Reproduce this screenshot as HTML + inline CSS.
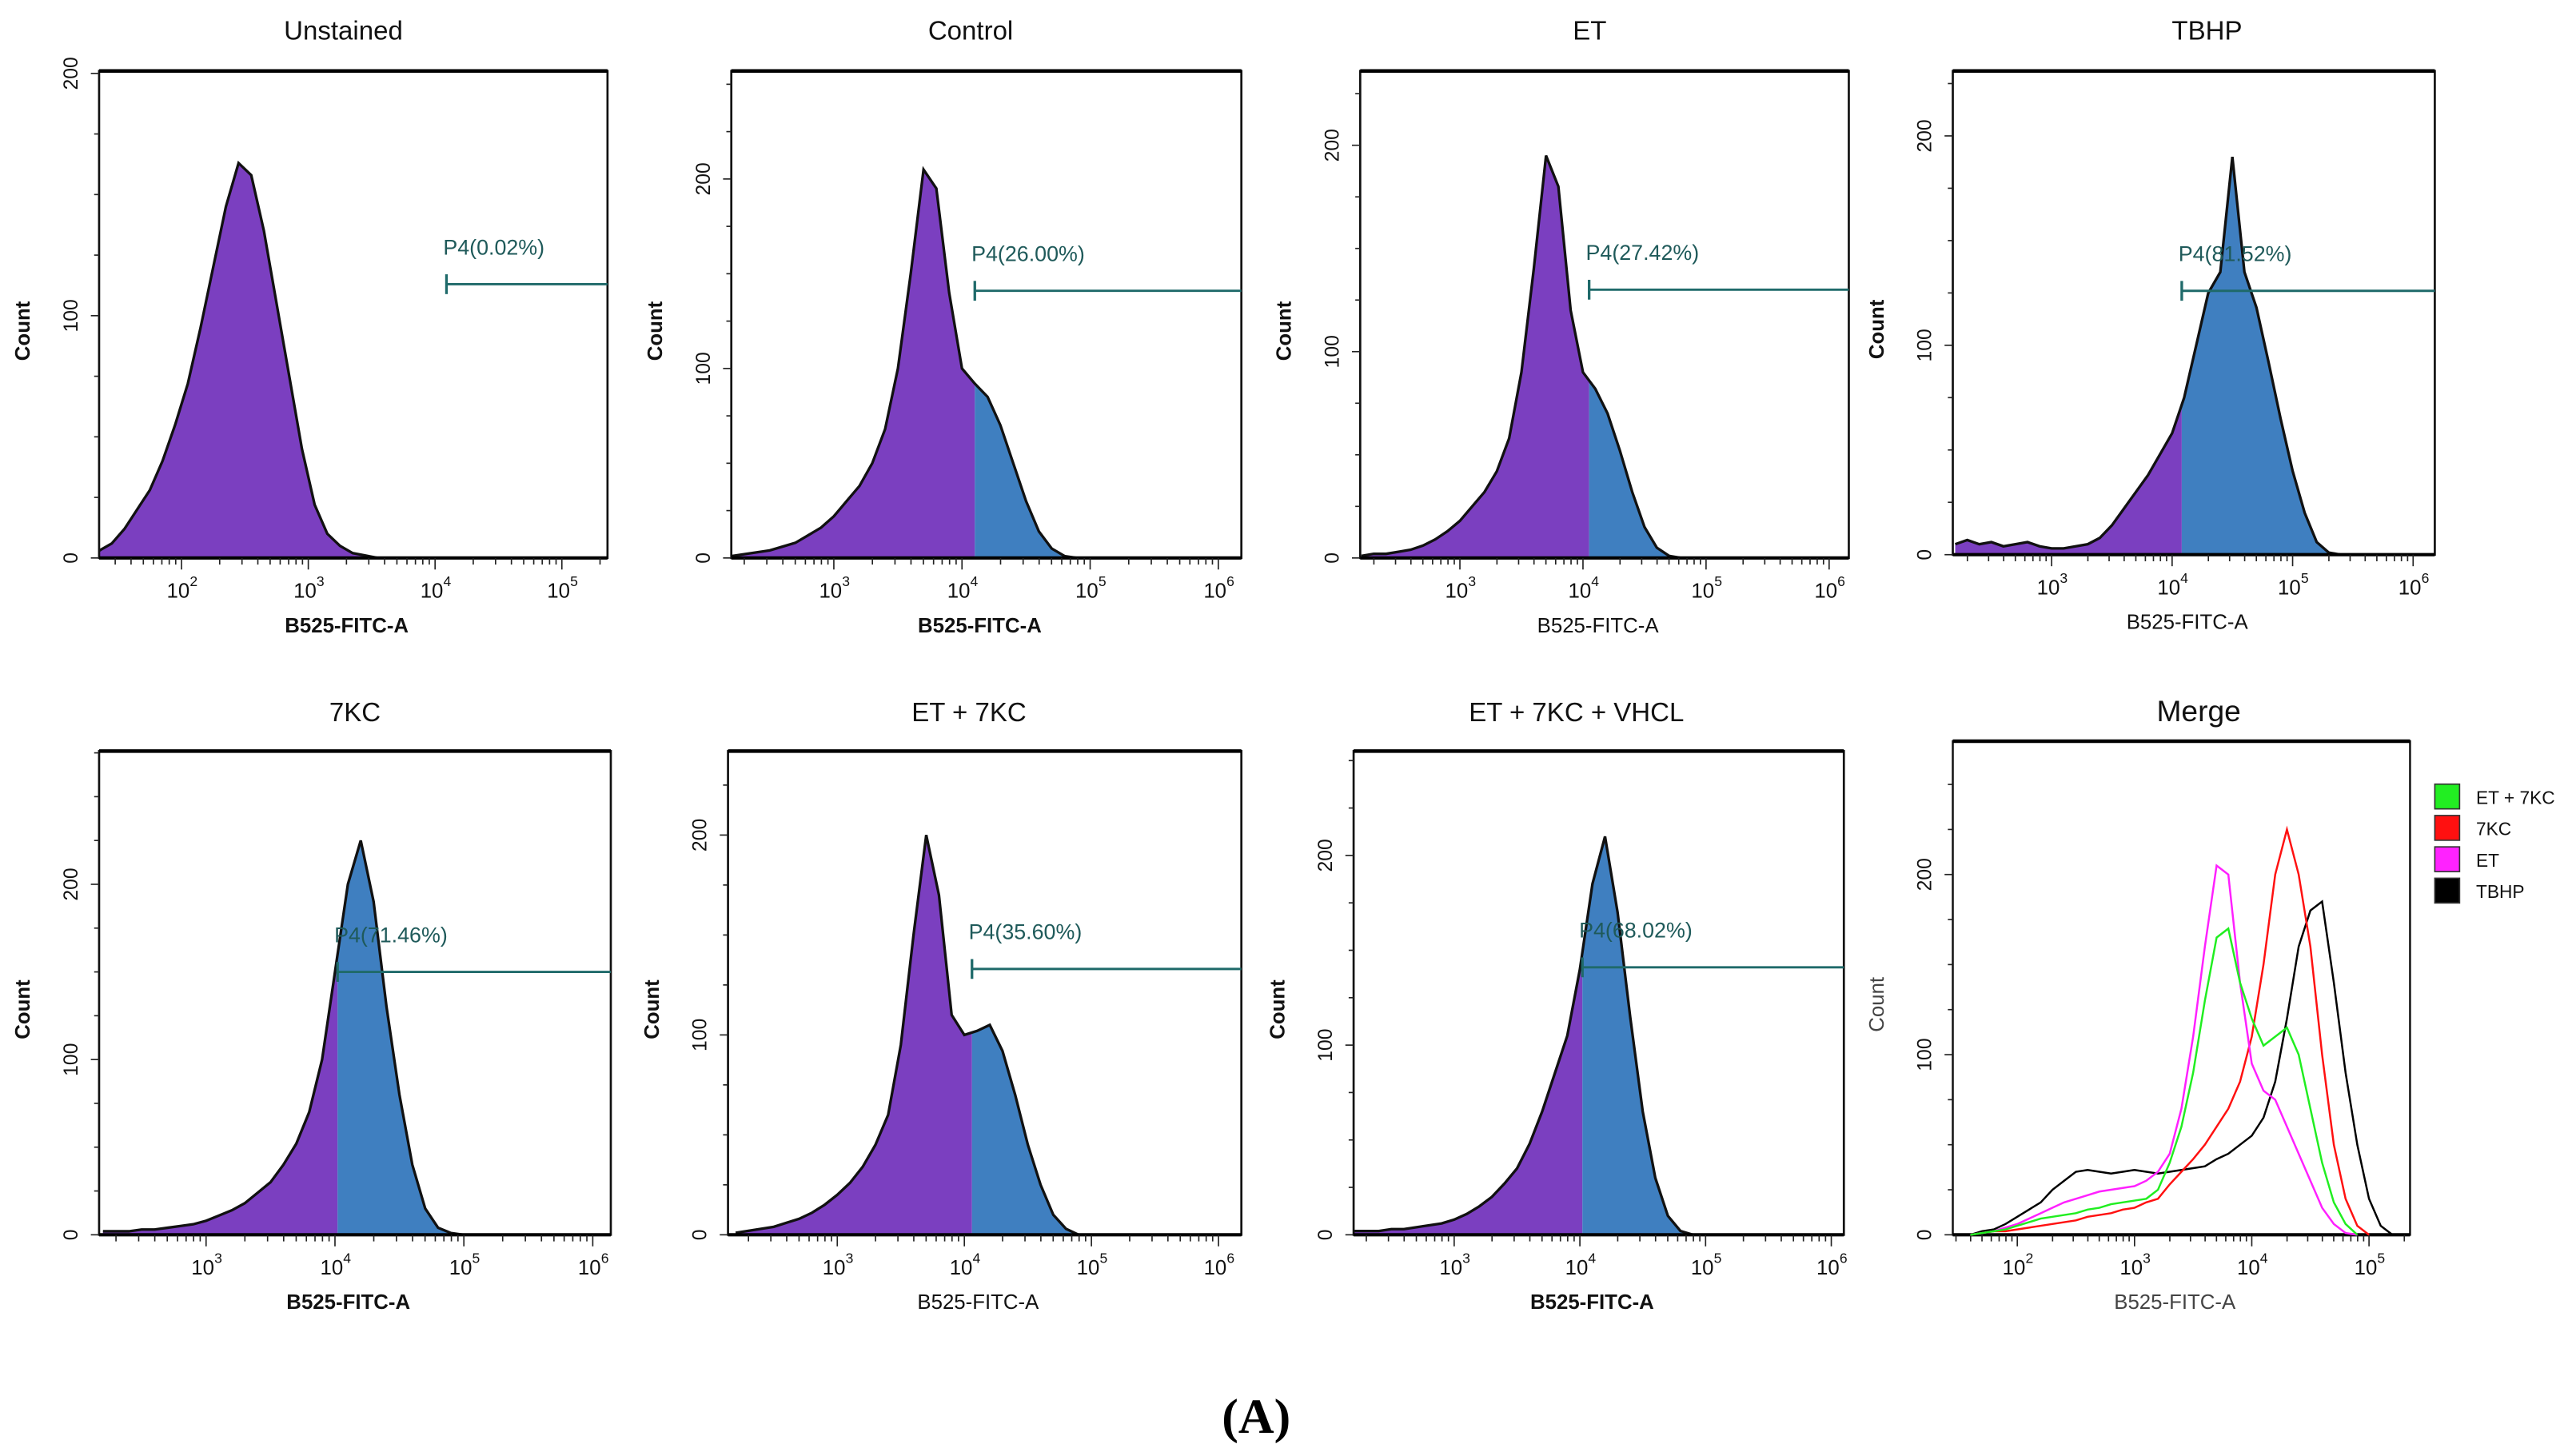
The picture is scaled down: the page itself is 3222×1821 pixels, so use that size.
<!DOCTYPE html>
<html><head><meta charset="utf-8"><style>
html,body{margin:0;padding:0;background:#fff;}
svg{display:block;font-family:"Liberation Sans",Arial,sans-serif;}
</style></head><body>
<svg id="fig" width="3222" height="1821" viewBox="0 0 1560.5 882" xmlns="http://www.w3.org/2000/svg">
<text x="761" y="868" font-family="Liberation Serif,serif" font-size="30" font-weight="bold" text-anchor="middle">(A)</text>
</svg>
<script>
// ---- data: counts sampled every 0.1 decade starting at given log10 value ----
const unstainedStart = 1.35;
const unstainedCounts = [3,6,12,20,28,40,55,72,95,120,145,163,158,135,105,75,45,22,10,5,2,1,0];
const controlStart = 2.2;
const controlCounts = [1,2,3,4,6,8,12,16,22,30,38,50,68,100,150,205,195,140,100,92,85,70,50,30,14,5,1,0];
const etStart = 2.2;
const etCounts = [1,2,2,3,4,6,9,13,18,25,32,42,58,90,140,195,180,120,90,82,70,52,32,15,5,1,0];
const tbhpStart = 2.2;
const tbhpCounts = [5,7,5,6,4,5,6,4,3,3,4,5,8,14,22,30,38,48,58,75,100,125,135,190,135,118,92,65,40,20,6,1,0];
const kc7Start = 2.2;
const kc7Counts = [2,2,2,3,3,4,5,6,8,11,14,18,24,30,40,52,70,100,150,200,225,190,130,80,40,15,4,1,0];
const etkcStart = 2.2;
const etkcCounts = [1,2,3,4,6,8,11,15,20,26,34,45,60,95,150,200,170,110,100,102,105,92,70,45,25,10,3,0];
const vhclStart = 2.2;
const vhclCounts = [2,2,2,3,3,4,5,6,8,11,15,20,27,35,48,65,85,105,140,185,210,170,115,65,30,10,2,0];
// merge overlay
const mergeStart = 1.6;
const mergeET = [0,1,2,4,6,9,12,15,18,20,22,24,25,26,27,30,35,45,70,110,160,205,200,140,95,80,75,60,45,30,15,6,1,0];
const mergeETKC = [0,1,2,3,5,7,9,10,11,12,14,15,17,18,19,20,25,40,60,90,130,165,170,140,120,105,110,115,100,70,40,18,6,0];
const mergeKC7 = [0,1,2,2,3,4,5,6,7,8,10,11,12,14,15,18,20,28,35,42,50,60,70,85,110,150,200,225,200,160,100,50,20,5,0];
const mergeTBHP = [0,2,3,6,10,14,18,25,30,35,36,35,34,35,36,35,34,35,36,37,38,42,45,50,55,65,85,120,160,180,185,140,90,50,20,5,0];
// tick labels
const yTickValues = [0,100,200];
const decadeLabels = [1,2,3,4,5,6];

const NS = "http://www.w3.org/2000/svg";
const svg = document.getElementById('fig');
function mk(tag, attrs, parent){const e=document.createElementNS(NS,tag);for(const k in attrs)e.setAttribute(k,attrs[k]);(parent||svg).appendChild(e);return e;}

const panels = [
 {name:'unstained',title:'Unstained',tx:208,ty:24,x0:60,x1:368,y0:43,y1:338,lx0:1.35,lx1:5.36,ymax:201,start:unstainedStart,counts:unstainedCounts,gate:4.09,gateY:113,label:'P4(0.02%)',xbold:true},
 {name:'control',title:'Control',tx:588,ty:24,x0:443,x1:752,y0:43,y1:338,lx0:2.2,lx1:6.18,ymax:257,start:controlStart,counts:controlCounts,gate:4.1,gateY:141,label:'P4(26.00%)',xbold:true},
 {name:'et',title:'ET',tx:963,ty:24,x0:824,x1:1120,y0:43,y1:338,lx0:2.19,lx1:6.16,ymax:236,start:etStart,counts:etCounts,gate:4.05,gateY:130,label:'P4(27.42%)',xbold:false},
 {name:'tbhp',title:'TBHP',tx:1337,ty:24,x0:1183,x1:1475,y0:43,y1:336,lx0:2.18,lx1:6.18,ymax:231,start:tbhpStart,counts:tbhpCounts,gate:4.08,gateY:126,label:'P4(81.52%)',xbold:false},
 {name:'7kc',title:'7KC',tx:215,ty:437,x0:60,x1:370,y0:455,y1:748,lx0:2.17,lx1:6.14,ymax:276,start:kc7Start,counts:kc7Counts,gate:4.02,gateY:150,label:'P4(71.46%)',xbold:true},
 {name:'et-7kc',title:'ET + 7KC',tx:587,ty:437,x0:441,x1:752,y0:455,y1:748,lx0:2.14,lx1:6.18,ymax:242,start:etkcStart,counts:etkcCounts,gate:4.06,gateY:133,label:'P4(35.60%)',xbold:false},
 {name:'et-7kc-vhcl',title:'ET + 7KC + VHCL',tx:955,ty:437,x0:820,x1:1117,y0:455,y1:748,lx0:2.2,lx1:6.1,ymax:255,start:vhclStart,counts:vhclCounts,gate:4.02,gateY:141,label:'P4(68.02%)',xbold:true}
];

function axesFor(p){
  const sx = l => p.x0 + (l - p.lx0)/(p.lx1 - p.lx0)*(p.x1 - p.x0);
  const sy = c => p.y1 - c/p.ymax*(p.y1 - p.y0);
  return {sx, sy};
}
function pts(p, start, counts, sx, sy){
  return counts.map((c,i)=>[sx(start+i*0.1), sy(c)]).filter(q=>q[0]>=p.x0-0.01 && q[0]<=p.x1+0.01);
}
function drawAxes(p, g, sx, sy, merge){
  const r = mk('rect',{x:p.x0,y:p.y0,width:p.x1-p.x0,height:p.y1-p.y0,fill:'none',stroke:'#111','stroke-width':merge?1.2:1.3},g);
  
  
  mk('line',{x1:p.x0,y1:p.y0,x2:p.x1,y2:p.y0,stroke:'#000','stroke-width':2.2},g);
  mk('line',{x1:p.x0,y1:p.y1,x2:p.x1,y2:p.y1,stroke:'#000','stroke-width':2},g);
  for(let c=0;c<=p.ymax;c+=25){
    const y=sy(c);
    mk('line',{x1:p.x0-(c%100===0?5:3),y1:y,x2:p.x0,y2:y,stroke:'#222','stroke-width':0.8},g);
  }
  yTickValues.forEach(v=>{
    if(v>p.ymax) return;
    const y=sy(v);
    const t=mk('text',{x:p.x0-13,y:y,'font-size':12,'text-anchor':'middle',transform:`rotate(-90 ${p.x0-13} ${y})`,fill:'#111'},g);
    t.textContent=v;
    
    
  });
  const yl=mk('text',{x:p.x0-42,y:(p.y0+p.y1)/2+10,'font-size':12.5,'font-weight':merge?'normal':'bold','text-anchor':'middle',transform:`rotate(-90 ${p.x0-42} ${(p.y0+p.y1)/2+10})`,fill:merge?'#444':'#111'},g);
  yl.textContent='Count';
  
  
  for(let d=Math.floor(p.lx0); d<=Math.ceil(p.lx1); d++){
    for(let m=1;m<10;m++){
      const l=d+Math.log10(m);
      if(l<p.lx0||l>p.lx1+0.001) continue;
      const x=sx(l);
      mk('line',{x1:x,y1:p.y1,x2:x,y2:p.y1+(m===1?7:4),stroke:'#222','stroke-width':0.8},g);
    }
  }
  decadeLabels.forEach(d=>{
    if(d<p.lx0+0.1||d>p.lx1+0.05) return;
    const x=sx(d);
    const t=mk('text',{x:x-2,y:p.y1+24,'font-size':12.5,'text-anchor':'middle',fill:'#111'},g);
    t.textContent='10';
    
    
    const s=mk('text',{x:x+5,y:p.y1+17,'font-size':8.5,fill:'#111'},g);
    s.textContent=d;
  });
  const xl=mk('text',{x:(p.x0+p.x1)/2-4,y:p.y1+45,'font-size':12.5,'font-weight':p.xbold?'bold':'normal','text-anchor':'middle',fill:merge?'#444':'#111'},g);
  xl.textContent='B525-FITC-A';
  
  
}

panels.forEach(p=>{
  const g=mk('g',{});
  
  
  const {sx,sy}=axesFor(p);
  const t=mk('text',{x:p.tx,y:p.ty,'font-size':16,'text-anchor':'middle',fill:'#111'},g);
  t.textContent=p.title;
  
  
  const P=pts(p,p.start,p.counts,sx,sy);
  const gx=sx(p.gate);
  const clipId='clip-'+p.name;
  const cp=mk('clipPath',{id:clipId},g);
  mk('rect',{x:p.x0,y:p.y0,width:p.x1-p.x0,height:p.y1-p.y0},cp);
  const d='M'+P[0][0]+','+p.y1+' '+P.map(q=>'L'+q[0].toFixed(2)+','+q[1].toFixed(2)).join(' ')+' L'+P[P.length-1][0]+','+p.y1+' Z';
  const cl='clipL-'+p.name, cr='clipR-'+p.name;
  const c1=mk('clipPath',{id:cl},g); mk('rect',{x:p.x0,y:p.y0,width:gx-p.x0,height:p.y1-p.y0},c1);
  const c2=mk('clipPath',{id:cr},g); mk('rect',{x:gx,y:p.y0,width:p.x1-gx,height:p.y1-p.y0},c2);
  const f1=mk('path',{d:d,fill:'#7b3fc0','clip-path':`url(#${cl})`},g);
  
  
  const f2=mk('path',{d:d,fill:'#3f7fc0','clip-path':`url(#${cr})`},g);
  
  
  const o=mk('path',{d:'M'+P.map(q=>q[0].toFixed(2)+','+q[1].toFixed(2)).join(' L'),fill:'none',stroke:'#111','stroke-width':1.6,'clip-path':`url(#${clipId})`},g);
  
  
  drawAxes(p,g,sx,sy,false);
  const gy=sy(p.gateY);
  const gl=mk('line',{x1:gx,y1:gy,x2:p.x1,y2:gy,stroke:'#1f6a6a','stroke-width':1.4},g);
  
  
  mk('line',{x1:gx,y1:gy-6,x2:gx,y2:gy+6,stroke:'#1f6a6a','stroke-width':1.6},g);
  const lb=mk('text',{x:gx-2,y:gy-18,'font-size':13,fill:'#1f5a5a'},g);
  lb.textContent=p.label;
  
  
});

// Merge panel
const M={name:'merge',x0:1183,x1:1460,y0:449,y1:748,lx0:1.45,lx1:5.35,ymax:274,xbold:false};
const mg=mk('g',{});


const ma=axesFor(M);
const mt=mk('text',{x:1332,y:437,'font-size':18,'text-anchor':'middle',fill:'#111'},mg);
mt.textContent='Merge';


drawAxes(M,mg,ma.sx,ma.sy,true);
const mseries=[[mergeTBHP,'#000','tbhp'],[mergeKC7,'#ff1010','7kc'],[mergeET,'#ff20ff','et'],[mergeETKC,'#20ee20','et-7kc']];
mseries.forEach(([arr,col,n])=>{
  const P=pts(M,mergeStart,arr,ma.sx,ma.sy);
  const l=mk('path',{d:'M'+P.map(q=>q[0].toFixed(2)+','+q[1].toFixed(2)).join(' L'),fill:'none',stroke:col,'stroke-width':1.2},mg);
  
  
});
const legend=[['ET + 7KC','#22ee22'],['7KC','#ff1010'],['ET','#ff22ff'],['TBHP','#000']];
legend.forEach((e,i)=>{
  const y=475+i*19;
  const r=mk('rect',{x:1475,y:y,width:15,height:15,fill:e[1],stroke:'#333','stroke-width':0.8},mg);
  
  
  const t=mk('text',{x:1500,y:y+12,'font-size':11,fill:'#111'},mg);
  t.textContent=e[0];
  
  
});
</script>
</body></html>
